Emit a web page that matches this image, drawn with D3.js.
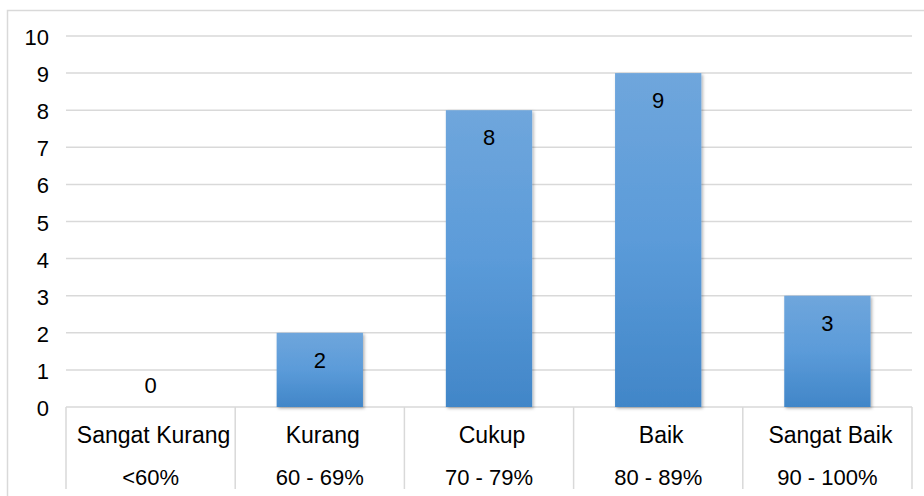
<!DOCTYPE html>
<meta charset="utf-8">
<style>
    body { margin: 0; background: #fff; }
    text { font-family: "Liberation Sans", Arial, sans-serif; fill: #000; }
</style>
<svg width="924" height="496"></svg>
<script src="https://d3js.org/d3.v7.min.js"></script>
<script>

    var categories = ["Sangat Kurang", "Kurang", "Cukup", "Baik", "Sangat Baik"];
    var ranges = ["<60%", "60 - 69%", "70 - 79%", "80 - 89%", "90 - 100%"];
    var values = [0, 2, 8, 9, 3];
    var yTicks = [0, 1, 2, 3, 4, 5, 6, 7, 8, 9, 10];

    var plotLeft = 66, plotRight = 912,
        plotTop = 36, plotBottom = 407,
        fontSize = 22;

    var svg = d3.select("svg");

    var defs = svg.append("defs");
    var grad = defs.append("linearGradient")
        .attr("id", "barGrad")
        .attr("x1", 0).attr("y1", 0).attr("x2", 0).attr("y2", 1);
    grad.append("stop").attr("offset", "0%").attr("stop-color", "#6fa6dc");
    grad.append("stop").attr("offset", "50%").attr("stop-color", "#5b9bd9");
    grad.append("stop").attr("offset", "100%").attr("stop-color", "#4186c8");

    var shadow = defs.append("filter").attr("id", "shadow")
        .attr("x", "-20%").attr("y", "-20%").attr("width", "140%").attr("height", "140%");
    shadow.append("feDropShadow")
        .attr("dx", 1.5).attr("dy", 1.5).attr("stdDeviation", 1.5)
        .attr("flood-color", "#000").attr("flood-opacity", 0.3);

    // outer border
    svg.append("rect")
        .attr("x", 7.5).attr("y", 10.5)
        .attr("width", 930).attr("height", 500)
        .attr("fill", "none")
        .attr("stroke", "#d9d9d9")
        .attr("stroke-width", 1.5);

    var x = d3.scaleBand()
        .domain(categories)
        .range([plotLeft, plotRight])
        .paddingInner(0.49)
        .paddingOuter(0.245);

    var xCat = d3.scaleBand()
        .domain(categories)
        .range([plotLeft, plotRight]);

    var y = d3.scaleLinear()
        .domain([0, 10])
        .range([plotBottom, plotTop]);

    // gridlines
    svg.append("g").selectAll("line")
        .data(yTicks)
        .enter().append("line")
        .attr("x1", plotLeft).attr("x2", plotRight)
        .attr("y1", function(d) { return y(d); })
        .attr("y2", function(d) { return y(d); })
        .attr("stroke", "#d9d9d9")
        .attr("stroke-width", 1.5);

    // y axis labels
    svg.append("g").selectAll("text")
        .data(yTicks)
        .enter().append("text")
        .attr("x", 49)
        .attr("y", function(d) { return y(d) + 9; })
        .attr("text-anchor", "end")
        .attr("font-size", fontSize)
        .text(function(d) { return d; });

    // bars
    svg.append("g").selectAll("rect")
        .data(values)
        .enter().append("rect")
        .attr("x", function(d, i) { return x(categories[i]); })
        .attr("y", function(d) { return y(d); })
        .attr("width", x.bandwidth())
        .attr("height", function(d) { return y(0) - y(d); })
        .attr("fill", "url(#barGrad)")
        .attr("filter", "url(#shadow)")
        .style("display", function(d) { return d > 0 ? null : "none"; });

    // value labels
    svg.append("g").selectAll("text")
        .data(values)
        .enter().append("text")
        .attr("x", function(d, i) { return x(categories[i]) + x.bandwidth() / 2; })
        .attr("y", function(d) { return d > 0 ? y(d) + 35 : y(d) - 14; })
        .attr("text-anchor", "middle")
        .attr("font-size", fontSize)
        .text(function(d) { return d; });

    // category table lines
    var dividers = categories.map(function(c) { return xCat(c); }).concat([plotRight]);
    svg.append("g").selectAll("line")
        .data(dividers)
        .enter().append("line")
        .attr("x1", function(d) { return d; })
        .attr("x2", function(d) { return d; })
        .attr("y1", plotBottom)
        .attr("y2", 489)
        .attr("stroke", "#d9d9d9")
        .attr("stroke-width", 1.5);

    svg.append("g").selectAll("text")
        .data(categories)
        .enter().append("text")
        .attr("x", function(d) { return xCat(d) + xCat.bandwidth() / 2 + 3; })
        .attr("y", 443)
        .attr("text-anchor", "middle")
        .attr("font-size", 23)
        .text(function(d) { return d; });

    svg.append("g").selectAll("text")
        .data(ranges)
        .enter().append("text")
        .attr("x", function(d, i) { return xCat(categories[i]) + xCat.bandwidth() / 2; })
        .attr("y", 485)
        .attr("text-anchor", "middle")
        .attr("font-size", fontSize)
        .text(function(d) { return d; });

</script>
